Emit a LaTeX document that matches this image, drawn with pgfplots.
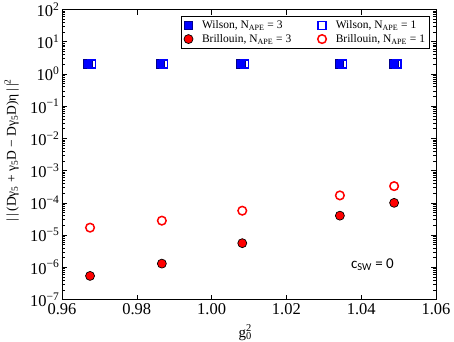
\documentclass[border=0pt]{standalone}
\usepackage{fontspec}
\setmainfont{Liberation Serif}
\newfontfamily\carlito{Carlito}
\usepackage{pgfplots}
\pgfplotsset{compat=1.18}
\definecolor{navy}{RGB}{0,0,140}
\begin{document}
\begin{tikzpicture}
\useasboundingbox (-62pt,-41.5pt) rectangle (392pt,299.5pt);
\begin{axis}[
  at={(0pt,0pt)}, anchor=south west,
  scale only axis, width=374pt, height=290pt,
  ymode=log,
  xmin=0.96, xmax=1.06, ymin=1e-7, ymax=1e2,
  xtick={0.96,0.98,1.00,1.02,1.04,1.06},
  xticklabels={0.96,0.98,1.00,1.02,1.04,1.06},
  ytick={1e-7,1e-6,1e-5,1e-4,1e-3,1e-2,1e-1,1e0,1e1,1e2},
  yticklabels={10\textsuperscript{−7},10\textsuperscript{−6},10\textsuperscript{−5},10\textsuperscript{−4},10\textsuperscript{−3},10\textsuperscript{−2},10\textsuperscript{−1},10\textsuperscript{0},10\textsuperscript{1},10\textsuperscript{2}},
  minor x tick num=0,
  tick align=inside,
  major tick length=5pt, minor tick length=3pt,
  every tick/.style={black, line width=0.6pt},
  axis line style={line width=0.9pt},
  tick label style={font=\fontsize{16.5}{18}\selectfont},
  yticklabel style={xshift=1pt},
  xlabel={g\rlap{\textsuperscript{2}}\textsubscript{0}},
  xlabel style={font=\fontsize{15}{16}\selectfont, at={(axis description cs:0.49,0)}, anchor=north, yshift=-22pt},
  ylabel={|\,|\,(Dγ\textsubscript{5} + γ\textsubscript{5}D − Dγ\textsubscript{5}D)η\,|\,|\textsuperscript{2}},
  ylabel style={font=\fontsize{13.5}{16}\selectfont, at={(axis description cs:-0.135,0.515)}, anchor=center},
  legend columns=2,
  legend style={at={(0.984,0.978)}, anchor=north east, draw=black, line width=0.9pt,
    font=\fontsize{11.5}{14}\selectfont, inner sep=2.5pt,
    /tikz/every odd column/.append style={column sep=7pt},
    /tikz/every even column/.append style={column sep=24pt}},
  legend cell align=left,
]
\addplot[blue, only marks, mark=square*, mark size=4.3pt, mark options={fill=blue, draw=navy, line width=1pt}]
coordinates {(0.9670,2.0) (0.9863,2.0) (1.0079,2.0) (1.0342,2.0) (1.0487,2.0)};
\addlegendentry{Wilson, N\textsubscript{APE} = 3}
\addplot[blue, only marks, mark=square, mark size=4.1pt, mark options={draw=blue, fill=white, line width=1.5pt},
  legend image code/.code={\draw[blue, line width=1.5pt, fill=white] (0.3cm-4pt,-4pt) rectangle (0.3cm+4pt,4pt);}]
coordinates {(0.9679,2.05) (0.9871,2.05) (1.0088,2.05) (1.0350,2.05) (1.0495,2.05)};
\addlegendentry{Wilson, N\textsubscript{APE} = 1}
\addplot[red, only marks, mark=*, mark size=4.5pt, mark options={fill=red, draw=black, line width=0.7pt}]
coordinates {(0.9675,5.4e-7) (0.9867,1.3e-6) (1.0082,5.6e-6) (1.0343,4.0e-5) (1.0488,1.0e-4)};
\addlegendentry{Brillouin, N\textsubscript{APE} = 3}
\addplot[red, only marks, mark=o, mark size=4.3pt, mark options={draw=red, fill=white, line width=1.5pt}]
coordinates {(0.9675,1.7e-5) (0.9867,2.8e-5) (1.0082,5.7e-5) (1.0343,1.7e-4) (1.0488,3.3e-4)};
\addlegendentry{Brillouin, N\textsubscript{APE} = 1}
\node[font=\carlito\fontsize{15}{18}\selectfont] at (axis description cs:0.83,0.119) {c\textsubscript{SW} = 0};
\end{axis}
\end{tikzpicture}
\end{document}
